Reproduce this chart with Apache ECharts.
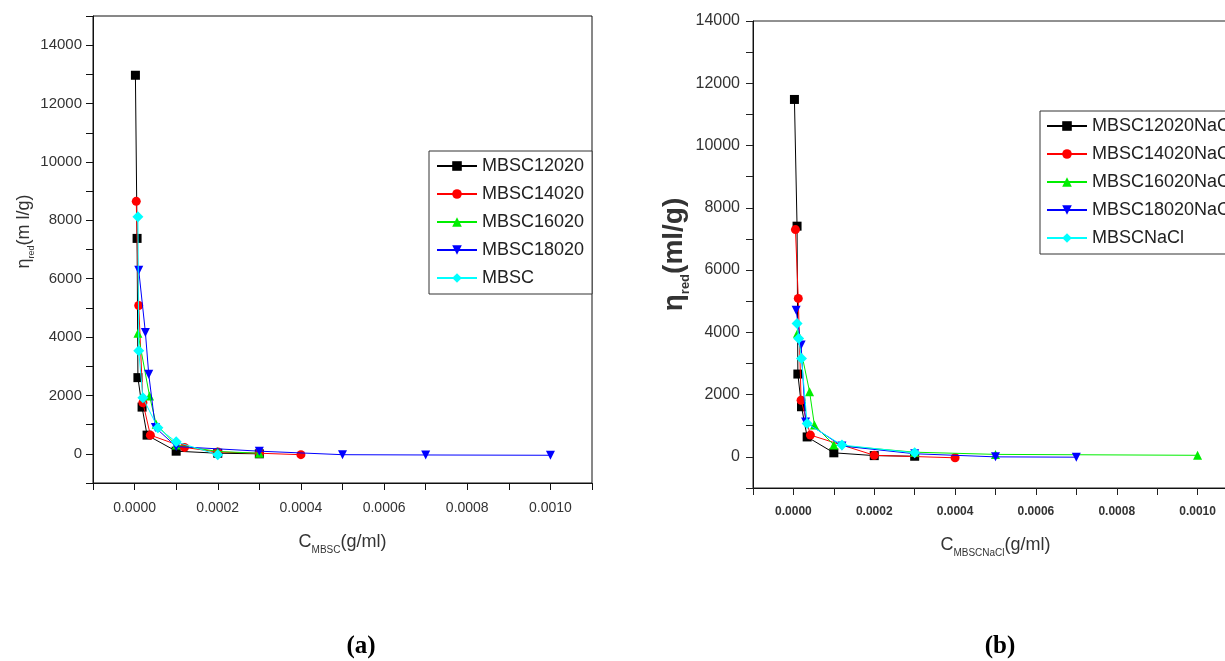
<!DOCTYPE html>
<html>
<head>
<meta charset="utf-8">
<script src="https://cdn.jsdelivr.net/npm/echarts@6/dist/echarts.min.js"></script>
<style>
html, body { margin: 0; padding: 0; overflow: hidden; background: #fff; }
#main { width: 1260px; height: 661px; }
</style>
</head>
<body>
<div id="main"></div>
<script>
// ---- Panel (a) data ----
const namesA = ['MBSC12020', 'MBSC14020', 'MBSC16020', 'MBSC18020', 'MBSC'];
const a1x = [0.000002, 0.000006, 0.000008, 0.000018, 0.00003, 0.0001, 0.0002, 0.0003];
const a1y = [12970, 7380, 2610, 1600, 640, 90, 20, 0];
const a2x = [0.000004, 0.00001, 0.00002, 0.000038, 0.00012, 0.0002, 0.0003, 0.0004];
const a2y = [8650, 5080, 1750, 640, 220, 60, 20, -30];
const a3x = [0.000008, 0.000036, 0.000052, 0.0001, 0.0002, 0.0003];
const a3y = [4130, 1980, 1010, 300, 80, 20];
const a4x = [0.00001, 0.000026, 0.000034, 0.00005, 0.0001, 0.0003, 0.0005, 0.0007, 0.001];
const a4y = [6290, 4160, 2730, 900, 250, 90, -30, -40, -50];
const a5x = [0.000008, 0.00001, 0.00002, 0.000056, 0.0001, 0.0002];
const a5y = [8120, 3530, 1920, 890, 410, -30];

// ---- Panel (b) data ----
const namesB = ['MBSC12020NaCl', 'MBSC14020NaCl', 'MBSC16020NaCl', 'MBSC18020NaCl', 'MBSCNaCl'];
const b1x = [0.0000025, 0.000009, 0.000011, 0.00002, 0.000034, 0.0001, 0.0002, 0.0003];
const b1y = [11480, 7410, 2660, 1610, 640, 130, 40, 20];
const b2x = [0.000005, 0.000012, 0.000019, 0.000042, 0.0002, 0.0004];
const b2y = [7300, 5090, 1820, 700, 50, -30];
const b3x = [0.00001, 0.00004, 0.000052, 0.0001, 0.0003, 0.0005, 0.001];
const b3y = [3970, 2090, 1020, 380, 150, 80, 50];
const b4x = [0.0000067, 0.000019, 0.00003, 0.00012, 0.0003, 0.0005, 0.0007];
const b4y = [4710, 3590, 1120, 350, 100, 0, -10];
const b5x = [0.000009, 0.000013, 0.00002, 0.000034, 0.00012, 0.0003];
const b5y = [4280, 3800, 3160, 1070, 380, 130];

const colors = ['#000000', '#ff0000', '#00ee00', '#0000ff', '#00ffff'];
const symbols = ['rect', 'circle', 'triangle', 'triangle', 'diamond'];
const rotates = [0, 0, 0, 180, 0];

const FONT = "'Liberation Sans', Arial, sans-serif";

function pairs(xs, ys) { return xs.map((x, i) => [x, ys[i]]); }

const seriesA = [[a1x, a1y], [a2x, a2y], [a3x, a3y], [a4x, a4y], [a5x, a5y]];
const seriesB = [[b1x, b1y], [b2x, b2y], [b3x, b3y], [b4x, b4y], [b5x, b5y]];

function mkSeries(list, names, idx) {
  return list.map((d, i) => ({
    name: names[i],
    type: 'line',
    xAxisIndex: idx, yAxisIndex: idx,
    data: pairs(d[0], d[1]),
    symbol: symbols[i],
    symbolRotate: rotates[i],
    symbolSize: i === 4 ? 11 : 9,
    color: colors[i],
    lineStyle: { width: 1, color: colors[i] },
    itemStyle: { color: colors[i] },
    z: 2 + i
  }));
}

function evenLabel(step, dec) {
  return function (v) {
    const k = Math.round(v / step);
    if (k % 2 !== 0) return '';
    return dec === null ? String(Math.round(v)) : v.toFixed(dec);
  };
}

const axisLineStyle = { show: true, onZero: false, lineStyle: { color: '#111', width: 1 } };

const option = {
  animation: false,
  backgroundColor: '#fff',
  grid: [
    { left: 93, top: 16, width: 499, height: 467, show: true, borderColor: '#111', borderWidth: 1, containLabel: false },
    { left: 753, top: 21, width: 485, height: 467, show: true, borderColor: '#222', borderWidth: 1, containLabel: false }
  ],
  xAxis: [
    {
      type: 'value', gridIndex: 0, min: -0.0001, max: 0.0011, interval: 0.0001,
      axisLine: axisLineStyle,
      axisTick: { show: true, inside: false, length: 7, lineStyle: { color: '#111' } },
      splitLine: { show: false },
      axisLabel: { margin: 18, fontSize: 14, fontFamily: FONT, color: '#333', formatter: evenLabel(0.0001, 4), showMinLabel: true, showMaxLabel: true },
      name: '{c|C}{s|MBSC}{t|(g/ml)}',
      nameLocation: 'middle', nameGap: 46,
      nameTextStyle: {
        rich: {
          c: { fontSize: 18, fontFamily: FONT, color: '#333', lineHeight: 26, verticalAlign: 'middle' },
          s: { fontSize: 10, fontFamily: FONT, color: '#333', lineHeight: 26, verticalAlign: 'bottom' },
          t: { fontSize: 18, fontFamily: FONT, color: '#333', lineHeight: 26, verticalAlign: 'middle' }
        }
      }
    },
    {
      type: 'value', gridIndex: 1, min: -0.0001, max: 0.0011, interval: 0.0001,
      axisLine: axisLineStyle,
      axisTick: { show: true, inside: false, length: 7, lineStyle: { color: '#222' } },
      splitLine: { show: false },
      axisLabel: { margin: 18, fontSize: 12, fontWeight: 'bold', fontFamily: FONT, color: '#333', formatter: evenLabel(0.0001, 4) },
      name: '{c|C}{s|MBSCNaCl}{t|(g/ml)}',
      nameLocation: 'middle', nameGap: 44,
      nameTextStyle: {
        rich: {
          c: { fontSize: 18, fontFamily: FONT, color: '#333', lineHeight: 26, verticalAlign: 'middle' },
          s: { fontSize: 10, fontFamily: FONT, color: '#333', lineHeight: 26, verticalAlign: 'bottom' },
          t: { fontSize: 18, fontFamily: FONT, color: '#333', lineHeight: 26, verticalAlign: 'middle' }
        }
      }
    }
  ],
  yAxis: [
    {
      type: 'value', gridIndex: 0, min: -1000, max: 15000, interval: 1000,
      axisLine: axisLineStyle,
      axisTick: { show: true, inside: false, length: 7, lineStyle: { color: '#111' } },
      splitLine: { show: false },
      axisLabel: { margin: 11, fontSize: 15, fontFamily: FONT, color: '#333', formatter: evenLabel(1000, null) },
      name: '{e|η}{s|red}{t|(m l/g)}',
      nameLocation: 'middle', nameGap: 55, nameRotate: 90,
      nameTextStyle: {
        padding: [0, 0, 0, 36],
        rich: {
          e: { fontSize: 18, fontFamily: FONT, color: '#333', lineHeight: 24, verticalAlign: 'middle' },
          s: { fontSize: 9, fontFamily: FONT, color: '#333', lineHeight: 24, verticalAlign: 'bottom' },
          t: { fontSize: 18, fontFamily: FONT, color: '#333', lineHeight: 24, verticalAlign: 'middle' }
        }
      }
    },
    {
      type: 'value', gridIndex: 1, min: -1000, max: 14000, interval: 1000,
      axisLine: axisLineStyle,
      axisTick: { show: true, inside: false, length: 7, lineStyle: { color: '#222' } },
      splitLine: { show: false },
      axisLabel: { margin: 13, fontSize: 16, fontFamily: FONT, color: '#333', formatter: evenLabel(1000, null) },
      name: '{e|η}{s|red}{t|(ml/g)}',
      nameLocation: 'middle', nameGap: 60, nameRotate: 90,
      nameTextStyle: {
        rich: {
          e: { fontSize: 28, fontWeight: 'bold', fontFamily: FONT, color: '#333', lineHeight: 34, verticalAlign: 'middle' },
          s: { fontSize: 13, fontWeight: 'bold', fontFamily: FONT, color: '#333', lineHeight: 34, verticalAlign: 'bottom' },
          t: { fontSize: 28, fontWeight: 'bold', fontFamily: FONT, color: '#333', lineHeight: 34, verticalAlign: 'middle' }
        }
      }
    }
  ],
  legend: [
    {
      data: namesA, orient: 'vertical', left: 429, top: 151,
      padding: [6, 8, 7, 7], borderColor: '#333', borderWidth: 1, backgroundColor: '#fff',
      itemWidth: 40, itemHeight: 12, itemGap: 10,
      textStyle: { fontSize: 18, fontFamily: FONT, color: '#222' }
    },
    {
      data: namesB, orient: 'vertical', left: 1040, top: 111,
      padding: [6, 8, 7, 6], borderColor: '#333', borderWidth: 1, backgroundColor: '#fff',
      itemWidth: 40, itemHeight: 12, itemGap: 10,
      textStyle: { fontSize: 18, fontFamily: FONT, color: '#222' }
    }
  ],
  graphic: [
    { type: 'text', x: 361, y: 647, style: { text: '(a)', font: "bold 25px 'Liberation Serif', serif", fill: '#000', align: 'center', verticalAlign: 'middle' } },
    { type: 'text', x: 1000, y: 647, style: { text: '(b)', font: "bold 25px 'Liberation Serif', serif", fill: '#000', align: 'center', verticalAlign: 'middle' } }
  ],
  series: mkSeries(seriesA, namesA, 0).concat(mkSeries(seriesB, namesB, 1))
};

const chart = echarts.init(document.getElementById('main'), null, { renderer: 'canvas' });
chart.setOption(option);
</script>
</body>
</html>
